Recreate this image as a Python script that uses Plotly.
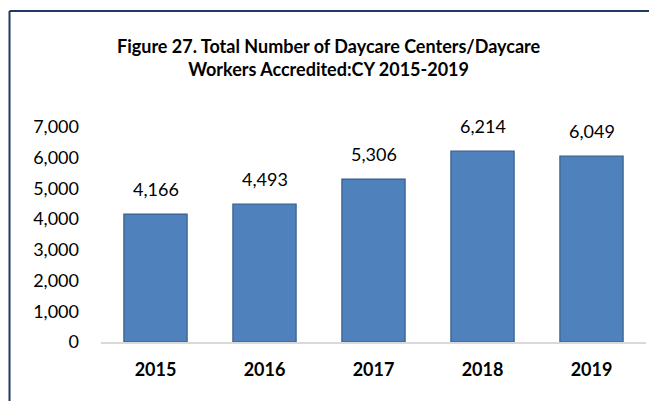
import plotly.graph_objects as go

years = ["2015", "2016", "2017", "2018", "2019"]
values = [4166, 4493, 5306, 6214, 6049]
value_labels = ["4,166", "4,493", "5,306", "6,214", "6,049"]
y_ticks = [0, 1000, 2000, 3000, 4000, 5000, 6000, 7000]
y_tick_labels = ["0", "1,000", "2,000", "3,000", "4,000", "5,000", "6,000", "7,000"]
title_text = "Figure 27. Total Number of Daycare Centers/Daycare<br>Workers Accredited:CY 2015-2019"

FONT = "Lato, Open Sans, sans-serif"

fig = go.Figure()
fig.add_trace(go.Bar(
    x=years, y=values,
    marker=dict(color="#4F81BD", line=dict(color="#385D8A", width=1.2)),
    width=0.58,
    hoverinfo="skip",
))

for i, (v, lab) in enumerate(zip(values, value_labels)):
    fig.add_annotation(x=i, y=v, text=lab, showarrow=False, yanchor="bottom",
                       yshift=12, font=dict(family=FONT, size=18, color="#000000"))

L, R, T, B = 101, 3, 127, 59
W, H = 649, 401
pw = W - L - R
ph = H - T - B
bx = (9.5 - L) / pw
by = (H - B - 11) / ph

fig.add_shape(type="line", xref="paper", yref="paper", x0=bx, x1=(W - L) / pw + 0.01,
              y0=by, y1=by, line=dict(color="#203864", width=2))
fig.add_shape(type="line", xref="paper", yref="paper", x0=bx, x1=bx,
              y0=by, y1=-B / ph - 0.02, line=dict(color="#203864", width=2))

fig.add_annotation(xref="paper", yref="paper", x=(329 - L) / pw, y=(H - B - 33) / ph,
                   xanchor="center", yanchor="top", showarrow=False, text="<b>" + title_text + "</b>",
                   font=dict(family=FONT, size=18, color="#000000"), align="center")

fig.update_layout(
    width=W, height=H,
    margin=dict(l=L, r=R, t=T, b=B, pad=0),
    paper_bgcolor="white", plot_bgcolor="white",
    showlegend=False,
    bargap=0.42,
    font=dict(family=FONT, size=18, color="#000000"),
)
fig.update_xaxes(
    type="category", showline=True, linecolor="#D9D9D9", linewidth=1.5,
    ticks="", showgrid=False, tickfont=dict(family=FONT, size=18, color="#000000", weight="bold"),
    ticklabelstandoff=11,
)
fig.update_yaxes(
    range=[0, 7000], tickvals=y_ticks, ticktext=y_tick_labels, showgrid=False,
    zeroline=False, showline=False, ticks="",
    tickfont=dict(family=FONT, size=18, color="#000000"), ticklabelstandoff=21,
)

fig.write_html("out.html", config={"displayModeBar": False, "staticPlot": True})

with open("out.html", "r", encoding="utf-8") as f:
    html = f.read()
html = html.replace("<head>", "<head><style>html,body{margin:0;padding:0;overflow:hidden;}</style>", 1)
with open("out.html", "w", encoding="utf-8") as f:
    f.write(html)
